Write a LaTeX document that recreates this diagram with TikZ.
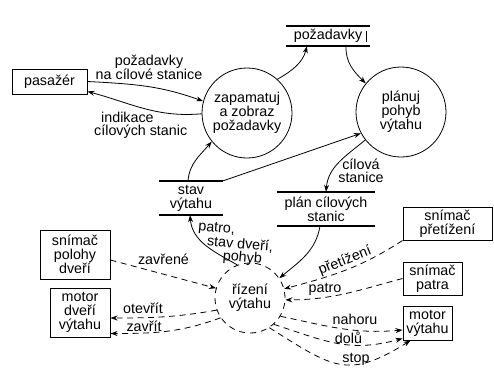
\documentclass[tikz,border=0pt]{standalone}
\usepackage{fontspec}
\setmainfont{Liberation Sans}
\usetikzlibrary{arrows.meta}

\tikzset{
  every node/.style={font=\fontsize{14.3}{14}\selectfont, inner sep=0pt},
  proc/.style={circle, draw, line width=0.8pt, align=center},
  ctrlproc/.style={proc, dash pattern=on 6pt off 5pt},
  ent/.style={draw, line width=1pt, align=center},
  store/.style={align=center},
  storeline/.style={line width=1.8pt},
  flow/.style={line width=0.8pt, -{Stealth[length=7pt,width=5pt]}},
  ctl/.style={flow, dash pattern=on 6pt off 4.5pt},
  lbl/.style={align=center, font=\fontsize{14.3}{13}\selectfont},
}

\begin{document}
\begin{tikzpicture}[x=1pt, y=1pt]
\useasboundingbox (0,0) rectangle (494,376);

% processes
\node[proc, minimum size=90pt] (zap) at (247,263) {zapamatuj\\a zobraz\\požadavky};
\node[proc, minimum size=90pt] (plan) at (401,264) {plánuj\\pohyb\\výtahu};
\node[ctrlproc, minimum size=70pt] (rizeni) at (250,78) {řízení\\výtahu};

% data stores
\node[store, minimum width=83pt, minimum height=20pt] (pozad) at (328,340) {požadavky};
\draw[storeline] (pozad.north west) -- (pozad.north east)
                 (pozad.south west) -- (pozad.south east);
\draw[line width=0.8pt] ([xshift=-3.5pt,yshift=-5pt]pozad.north east) -- ([xshift=-3.5pt,yshift=4pt]pozad.south east);

\node[store, minimum width=64pt, minimum height=34pt] (stav) at (191,178) {stav\\výtahu};
\draw[storeline] (stav.north west) -- (stav.north east)
                 (stav.south west) -- (stav.south east);

\node[store, minimum width=98pt, minimum height=34pt] (plst) at (326,167) {plán cílových\\stanic};
\draw[storeline] (plst.north west) -- (plst.north east)
                 (plst.south west) -- (plst.south east);

% terminators
\node[ent, minimum width=75pt, minimum height=25pt] (pasazer) at (49.5,294.5) {pasažér};
\node[ent, minimum width=70pt, minimum height=49pt] (polohy) at (75,121.5) {snímač\\polohy\\dveří};
\node[ent, minimum width=60pt, minimum height=49pt] (motordv) at (80,63.5) {motor\\dveří\\výtahu};
\node[ent, minimum width=89pt, minimum height=33pt] (pret) at (447.5,152.5) {snímač\\přetížení};
\node[ent, minimum width=59pt, minimum height=33pt] (patra) at (432.5,97.5) {snímač\\patra};
\node[ent, minimum width=49pt, minimum height=34pt] (motorvyt) at (427.5,53) {motor\\výtahu};

% data flows
\draw[flow] (pasazer.east) to[out=-3, in=160] (zap.165);
\draw[flow] (zap.181) to[out=185, in=-15] ([yshift=-10pt]pasazer.east);
\draw[flow] (zap.48) to[out=30, in=-105] ([xshift=-21pt]pozad.south);
\draw[flow] ([xshift=18pt]pozad.south) to[out=-92, in=135] (plan.141);
\draw[flow] ([xshift=-3pt]stav.north) to[out=85, in=-130] (zap.219);
\draw[flow] (stav.north east) -- (plan.208);
\draw[flow] (plan.218) to[out=220, in=85] (plst.north);
\draw[flow] ([xshift=-6pt]plst.south) to[out=-100, in=40] (rizeni.34);
\draw[flow] (rizeni.111) to[out=150, in=-85] ([xshift=-1pt]stav.south);

% control flows
\draw[ctl] ([yshift=-5.5pt]polohy.east) -- (rizeni.164);
\draw[ctl] (rizeni.200) to[out=190, in=0] ([yshift=-5.5pt]motordv.east);
\draw[ctl] (rizeni.214) to[out=200, in=0] ([yshift=4pt]motordv.south east);
\draw[ctl] (pret.south west) to[out=213, in=15] (rizeni.15);
\draw[ctl] (patra.west) to[out=195, in=0] (rizeni.-3);
\draw[ctl] (rizeni.-31) to[out=-12, in=185] ([yshift=-7pt]motorvyt.west);
\draw[ctl] (rizeni.-48) to[out=-18, in=195, looseness=1.1] ([yshift=2pt]motorvyt.south west);
\draw[ctl] (rizeni.-57) to[out=-32, in=-148, looseness=1.35] ([xshift=-17pt]motorvyt.south);

% flow labels
\node[lbl] (lreq) at (149,308.5) {požadavky\\na cílové stanice};
\node[lbl, align=left, anchor=west] (lind) at (94,250.5) {\hspace*{7pt}indikace\\cílových stanic};
\node[lbl] (lcil) at (361,205.5) {cílová\\stanice};
\node[lbl, align=left, anchor=west, rotate=-5, font=\fontsize{14.3}{10.5}\selectfont] (lst) at (197,135) {patro,\\\hspace*{10pt}stav dveří,\\\hspace*{27pt}pohyb};
\node[lbl] (lzav) at (163.5,117) {zavřené};
\node[lbl] (lotv) at (143,68) {otevřít};
\node[lbl] (lzavr) at (144,50) {zavřít};
\node[lbl, rotate=22] (lpret) at (345,115) {přetížení};
\node[lbl] (lpatro) at (325,87) {patro};
\node[lbl] (lnah) at (355,57) {nahoru};
\node[lbl] (ldol) at (348.5,38) {dolů};
\node[lbl] (lstop) at (356,17) {stop};
\end{tikzpicture}
\end{document}
